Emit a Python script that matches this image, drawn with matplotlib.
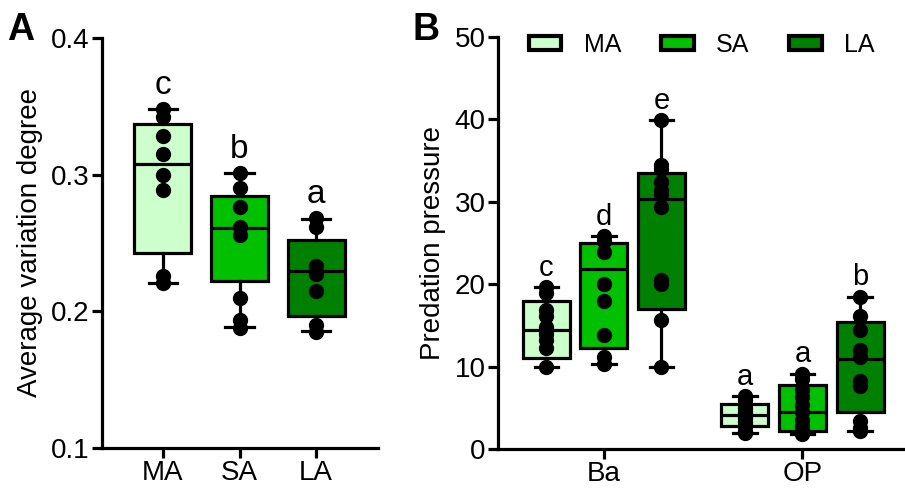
import matplotlib.pyplot as plt
from matplotlib.patches import Patch

plt.rcParams['font.family'] = ['Liberation Sans', 'DejaVu Sans']

groups_a = ["MA", "SA", "LA"]
colors = ["#CCFFCC", "#00C000", "#008000"]

# panel A: box stats (min, q1, median, q3, max) and points
a_min = [0.2205, 0.1882, 0.1853]
a_q1 = [0.2428, 0.2225, 0.1966]
a_med = [0.3076, 0.2611, 0.2298]
a_q3 = [0.3374, 0.2846, 0.2523]
a_max = [0.3477, 0.3012, 0.2678]
a_pts = [
    [0.348, 0.342, 0.328, 0.315, 0.300, 0.289, 0.226, 0.221],
    [0.301, 0.290, 0.276, 0.262, 0.256, 0.210, 0.194, 0.188],
    [0.268, 0.262, 0.233, 0.227, 0.215, 0.190, 0.185],
]
a_letters = ["c", "b", "a"]

# panel B
cats_b = ["Ba", "OP"]
b_min = [[10.0, 10.3, 10.0], [2.0, 1.8, 2.2]]
b_q1 = [[11.0, 12.3, 17.0], [2.8, 2.2, 4.5]]
b_med = [[14.4, 21.9, 30.3], [4.1, 4.5, 10.9]]
b_q3 = [[17.9, 25.0, 33.5], [5.5, 7.8, 15.4]]
b_max = [[19.6, 25.8, 39.9], [6.4, 9.1, 18.5]]
b_pts = [
    [[19.6, 18.9, 16.9, 16.1, 14.8, 14.0, 13.2, 12.2, 10.0],
     [25.8, 25.2, 23.9, 20.0, 17.9, 13.8, 11.2, 10.3],
     [39.9, 34.5, 34.0, 32.4, 31.4, 31.0, 29.4, 20.5, 20.0, 15.7, 10.0]],
    [[6.4, 6.0, 5.5, 5.0, 4.5, 4.2, 3.8, 3.3, 2.8, 2.2, 2.0],
     [9.1, 8.5, 7.2, 6.3, 5.3, 4.5, 3.5, 2.8, 2.2, 1.8],
     [18.5, 16.1, 14.4, 12.0, 11.2, 8.2, 7.6, 3.4, 2.5, 2.2]],
]
b_letters = [["c", "d", "e"], ["a", "a", "b"]]


def stats(lo, q1, med, q3, hi):
    return dict(whislo=lo, q1=q1, med=med, q3=q3, whishi=hi, fliers=[])


def draw_boxes(ax, st, pos, width, cols):
    bp = ax.bxp(st, positions=pos, widths=width, patch_artist=True,
                showfliers=False, capwidths=width * 0.5,
                boxprops=dict(linewidth=2.3, edgecolor="black"),
                medianprops=dict(color="black", linewidth=2.3),
                whiskerprops=dict(color="black", linewidth=2.3),
                capprops=dict(color="black", linewidth=2.3))
    for patch, c in zip(bp["boxes"], cols):
        patch.set_facecolor(c)


def style(ax):
    for s in ["top", "right"]:
        ax.spines[s].set_visible(False)
    for s in ["left", "bottom"]:
        ax.spines[s].set_linewidth(2.3)
    ax.tick_params(width=2.3, length=7, labelsize=20, pad=2)


fig = plt.figure(figsize=(9.05, 4.96), dpi=100)

# ---- A ----
axA = fig.add_axes([0.1127, 0.0968, 0.305, 0.8266])
posA = [1, 2, 3]
stA = [stats(a_min[i], a_q1[i], a_med[i], a_q3[i], a_max[i]) for i in range(3)]
draw_boxes(axA, stA, posA, 0.745, colors)
for p, pts in zip(posA, a_pts):
    axA.plot([p] * len(pts), pts, "o", color="black", markersize=10, zorder=5)
for p, hi, lt in zip(posA, a_max, a_letters):
    axA.annotate(lt, (p, hi), xytext=(0, 6), textcoords="offset points",
                 ha="center", va="bottom", fontsize=24)
axA.set_xlim(0.203, 3.81)
axA.set_ylim(0.1, 0.4)
axA.set_yticks([0.1, 0.2, 0.3, 0.4])
axA.set_xticks(posA)
axA.set_xticklabels(groups_a)
axA.set_ylabel("Average variation degree", fontsize=20, labelpad=6)
style(axA)

# ---- B ----
axB = fig.add_axes([0.5503, 0.0948, 0.449, 0.8306])
offs = [-0.29, 0.0, 0.29]
for g in range(2):
    pos = [g + o for o in offs]
    st = [stats(b_min[g][i], b_q1[g][i], b_med[g][i], b_q3[g][i], b_max[g][i]) for i in range(3)]
    draw_boxes(axB, st, pos, 0.236, colors)
    for p, pts in zip(pos, b_pts[g]):
        axB.plot([p] * len(pts), pts, "o", color="black", markersize=10, zorder=5)
    for p, hi, lt in zip(pos, b_max[g], b_letters[g]):
        axB.annotate(lt, (p, hi), xytext=(0, 4), textcoords="offset points",
                     ha="center", va="bottom", fontsize=21)
axB.set_xlim(-0.533, 1.513)
axB.set_ylim(0, 50)
axB.set_yticks([0, 10, 20, 30, 40, 50])
axB.set_xticks([0, 1])
axB.set_xticklabels(cats_b)
axB.set_ylabel("Predation pressure", fontsize=20, labelpad=6)
style(axB)
handles = [Patch(facecolor=c, edgecolor="black", linewidth=3, label=l)
           for c, l in zip(colors, groups_a)]
axB.legend(handles=handles, ncol=3, frameon=False, loc="upper left",
           bbox_to_anchor=(0.02, 1.065), fontsize=18, handlelength=1.3,
           handleheight=0.45, columnspacing=1.6, handletextpad=0.9)

fig.text(0.008, 0.975, "A", fontsize=27, fontweight="bold", va="top")
fig.text(0.456, 0.975, "B", fontsize=27, fontweight="bold", va="top")

fig.savefig("out.png", dpi=100)
